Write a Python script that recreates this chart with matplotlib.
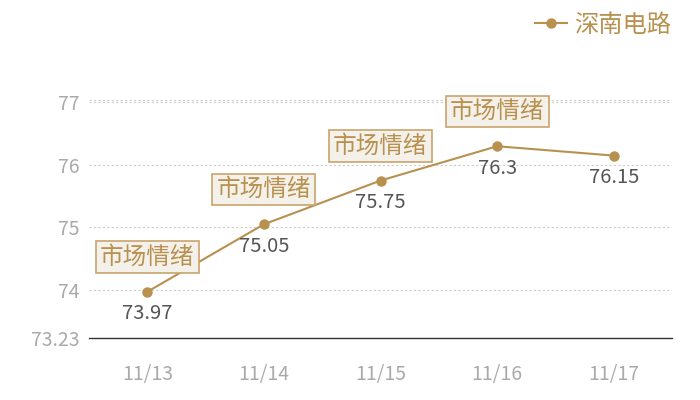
import matplotlib
matplotlib.use("Agg")
import matplotlib.pyplot as plt

plt.rcParams['font.family'] = ['Noto Sans CJK SC', 'DejaVu Sans']

# data
dates = ['11/13', '11/14', '11/15', '11/16', '11/17']
prices = [73.97, 75.05, 75.75, 76.3, 76.15]
price_labels = ['73.97', '75.05', '75.75', '76.3', '76.15']
note_text = '市场情绪'
note_idx = [0, 1, 2, 3]
series_name = '深南电路'
y_ticks = [73.23, 74, 75, 76, 77]

gold = '#b8914f'
fig = plt.figure(figsize=(7, 4), dpi=100)
ax = fig.add_axes([89 / 700, 1 - 338 / 400, 583 / 700, 238 / 400])

x = list(range(len(dates)))
ax.plot(x, prices, color=gold, lw=1.5, marker='o', ms=6.5, zorder=3,
        label=series_name)

for i, (v, lab) in enumerate(zip(prices, price_labels)):
    ax.annotate(lab, (i, v), xytext=(0, -16), textcoords='offset points',
                ha='center', va='center', fontsize=14.5, color='#555555',
                zorder=4)

for i in note_idx:
    ax.annotate(note_text, (i, prices[i]), xytext=(0, 25), textcoords='offset points',
                ha='center', va='center', fontsize=17, color=gold, zorder=5,
                bbox=dict(boxstyle='square,pad=0.18', fc='#f4f0ea', ec='#c9a46c', lw=1.2))

ax.set_xlim(-0.5, len(dates) - 0.5)
ax.set_ylim(73.23, 77.04)
ax.set_xticks(x)
ax.set_xticklabels(dates)
ax.set_yticks(y_ticks)
ax.set_yticklabels(['73.23', '74', '75', '76', '77'])
ax.tick_params(length=0, colors='#aaaaaa', labelsize=14)
ax.tick_params(axis='x', pad=19)
ax.tick_params(axis='y', pad=7)

for t in [74, 75, 76, 77, 77.04]:
    ax.axhline(t, color='#cccccc', lw=0.8, ls=(0, (2, 2)), zorder=1)

for s in ['top', 'right', 'left']:
    ax.spines[s].set_visible(False)
ax.spines['bottom'].set_color('#333333')
ax.spines['bottom'].set_linewidth(1)

leg = fig.legend(loc='upper right', bbox_to_anchor=(0.99, 1.025), frameon=False,
                 fontsize=17.5, handlelength=1.3, handletextpad=0.3)
for t in leg.get_texts():
    t.set_color(gold)

fig.savefig('out.png', dpi=100)
